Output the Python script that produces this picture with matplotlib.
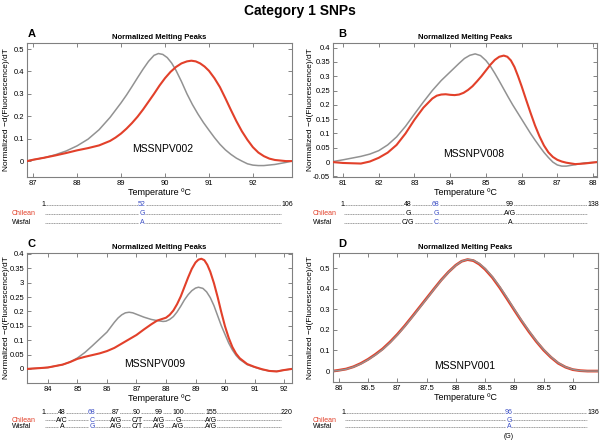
import matplotlib
matplotlib.use("Agg")
import matplotlib.pyplot as plt
from matplotlib.lines import Line2D

plt.rcParams['font.family'] = ['Liberation Sans', 'DejaVu Sans']

# ---- melting curves ----
a_x_gray = [86.86, 87.0, 87.25, 87.5, 87.75, 88.0, 88.25, 88.5, 88.75, 89.0, 89.125, 89.25, 89.375,
            89.5, 89.625, 89.75, 89.85, 89.95, 90.05, 90.15, 90.25, 90.375, 90.5, 90.625, 90.75,
            90.875, 91.0, 91.125, 91.25, 91.375, 91.5, 91.625, 91.75, 91.875, 92.0, 92.125, 92.25,
            92.5, 92.75, 92.89]
a_y_gray = [0.0, 0.006, 0.015, 0.028, 0.045, 0.068, 0.098, 0.14, 0.195, 0.26, 0.295, 0.333, 0.372,
            0.41, 0.445, 0.472, 0.48, 0.476, 0.462, 0.438, 0.405, 0.355, 0.30, 0.252, 0.21,
            0.172, 0.138, 0.105, 0.075, 0.05, 0.03, 0.013, 0.0, -0.012, -0.018, -0.02, -0.02,
            -0.015, -0.006, 0.0]
a_x_red = [86.86, 87.0, 87.25, 87.5, 87.75, 88.0, 88.25, 88.5, 88.75, 88.875, 89.0, 89.125, 89.25,
           89.375, 89.5, 89.625, 89.75, 89.875, 90.0, 90.125, 90.25, 90.375, 90.5, 90.6, 90.7,
           90.8, 90.9, 91.0, 91.125, 91.25, 91.375, 91.5, 91.625, 91.75, 91.875, 92.0, 92.125,
           92.25, 92.375, 92.5, 92.75, 92.89]
a_y_red = [0.0, 0.006, 0.015, 0.025, 0.036, 0.048, 0.058, 0.07, 0.09, 0.105, 0.123, 0.145, 0.17,
           0.198, 0.23, 0.265, 0.30, 0.337, 0.37, 0.398, 0.42, 0.436, 0.445, 0.448, 0.445,
           0.436, 0.422, 0.403, 0.37, 0.33, 0.28, 0.228, 0.178, 0.133, 0.095, 0.062, 0.038,
           0.022, 0.011, 0.005, 0.0, 0.0]

b_x_gray = [80.72, 81.0, 81.5, 81.75, 82.0, 82.25, 82.5, 82.75, 83.0, 83.25, 83.5, 83.75, 84.0,
            84.25, 84.4, 84.55, 84.7, 84.85, 85.0, 85.125, 85.25, 85.375, 85.5, 85.625, 85.75,
            85.875, 86.0, 86.125, 86.25, 86.375, 86.5, 86.625, 86.75, 86.875, 87.0, 87.125, 87.25,
            87.5, 87.75, 88.11]
b_y_gray = [0.002, 0.008, 0.02, 0.028, 0.04, 0.06, 0.088, 0.125, 0.168, 0.21, 0.25, 0.285, 0.315,
            0.345, 0.362, 0.373, 0.378, 0.372, 0.355, 0.335, 0.31, 0.283, 0.255, 0.227, 0.2,
            0.175, 0.15, 0.125, 0.10, 0.077, 0.055, 0.034, 0.016, 0.0, -0.01, -0.014, -0.014,
            -0.009, -0.003, 0.0]
b_x_red = [80.72, 81.0, 81.5, 81.75, 82.0, 82.25, 82.5, 82.75, 83.0, 83.25, 83.5, 83.625, 83.75,
           83.875, 84.0, 84.125, 84.25, 84.375, 84.5, 84.625, 84.75, 84.875, 85.0, 85.125, 85.25,
           85.375, 85.5, 85.6, 85.7, 85.8, 85.9, 86.0, 86.125, 86.25, 86.375, 86.5, 86.625, 86.75,
           86.875, 87.0, 87.125, 87.25, 87.5, 87.75, 88.11]
b_y_red = [0.0, -0.003, -0.005, 0.002, 0.015, 0.033, 0.06, 0.10, 0.148, 0.19, 0.222, 0.232, 0.236,
           0.237, 0.235, 0.234, 0.236, 0.242, 0.252, 0.265, 0.282, 0.30, 0.32, 0.34, 0.357,
           0.368, 0.372, 0.368, 0.355, 0.332, 0.30, 0.265, 0.218, 0.172, 0.128, 0.09, 0.058, 0.034,
           0.018, 0.008, 0.002, -0.002, -0.007, -0.005, 0.0]

c_x_gray = [83.29, 83.75, 84.0, 84.5, 84.75, 85.0, 85.25, 85.5, 85.75, 86.0, 86.125, 86.25, 86.375,
            86.5, 86.625, 86.75, 86.875, 87.0, 87.25, 87.5, 87.7, 87.9, 88.0, 88.125, 88.25, 88.375,
            88.5, 88.625, 88.75, 88.875, 89.0, 89.1, 89.25, 89.375, 89.5, 89.625, 89.75, 89.875,
            90.0, 90.125, 90.25, 90.375, 90.5, 90.75, 91.0, 91.25, 91.5, 91.75, 92.0, 92.27]
c_y_gray = [0.0, 0.003, 0.005, 0.015, 0.024, 0.038, 0.057, 0.08, 0.104, 0.128, 0.145, 0.162, 0.177,
            0.188, 0.195, 0.197, 0.195, 0.19, 0.18, 0.172, 0.168, 0.165, 0.166, 0.172, 0.182, 0.198,
            0.218, 0.24, 0.258, 0.272, 0.281, 0.284, 0.28, 0.268, 0.248, 0.22, 0.185, 0.15,
            0.12, 0.09, 0.066, 0.047, 0.033, 0.015, 0.006, -0.002, -0.007, -0.008, -0.004, 0.0]
c_x_red = [83.29, 83.75, 84.0, 84.5, 84.75, 85.0, 85.25, 85.5, 85.75, 86.0, 86.25, 86.5, 86.75,
           87.0, 87.25, 87.5, 87.7, 88.0, 88.125, 88.25, 88.375, 88.5, 88.625, 88.75, 88.875, 89.0,
           89.1, 89.2, 89.3, 89.4, 89.5, 89.625, 89.75, 89.875, 90.0, 90.125, 90.25, 90.375, 90.5,
           90.75, 91.0, 91.25, 91.5, 91.75, 92.0, 92.27]
c_y_red = [0.0, 0.003, 0.005, 0.015, 0.024, 0.035, 0.042, 0.048, 0.054, 0.062, 0.073, 0.088, 0.103,
           0.118, 0.137, 0.155, 0.168, 0.178, 0.188, 0.203, 0.225, 0.252, 0.285, 0.318, 0.348, 0.37,
           0.38, 0.383, 0.378, 0.362, 0.338, 0.298, 0.25, 0.197, 0.148, 0.108, 0.076, 0.053, 0.037,
           0.017, 0.007, -0.001, -0.007, -0.009, -0.004, 0.0]

d_x_gray = [85.9, 86.0, 86.125, 86.25, 86.375, 86.5, 86.625, 86.75, 86.875, 87.0, 87.125, 87.25,
            87.375, 87.5, 87.625, 87.75, 87.875, 88.0, 88.1, 88.2, 88.3, 88.4, 88.5, 88.625, 88.75,
            88.875, 89.0, 89.125, 89.25, 89.375, 89.5, 89.625, 89.75, 89.875, 90.0, 90.125, 90.25,
            90.43]
d_y_gray = [0.0, 0.003, 0.009, 0.02, 0.035, 0.055, 0.078, 0.105, 0.138, 0.175, 0.216, 0.26,
            0.305, 0.35, 0.396, 0.44, 0.48, 0.513, 0.533, 0.542, 0.538, 0.522, 0.498, 0.458, 0.41,
            0.356, 0.30, 0.246, 0.195, 0.147, 0.105, 0.069, 0.04, 0.02, 0.008, 0.002, 0.0, 0.0]
d_x_red = d_x_gray
d_y_red = [0.0, 0.004, 0.01, 0.021, 0.037, 0.057, 0.081, 0.108, 0.141, 0.178, 0.219, 0.263,
           0.308, 0.353, 0.398, 0.442, 0.481, 0.514, 0.533, 0.541, 0.536, 0.519, 0.494, 0.454, 0.405,
           0.351, 0.296, 0.242, 0.191, 0.144, 0.102, 0.067, 0.038, 0.019, 0.007, 0.002, 0.0, 0.0]

amplicons = ["MSSNPV002", "MSSNPV008", "MSSNPV009", "MSSNPV001"]
panel_letters = ["A", "B", "C", "D"]

a_xticks = [87, 88, 89, 90, 91, 92]
b_xticks = [81, 82, 83, 84, 85, 86, 87, 88]
c_xticks = [84, 85, 86, 87, 88, 89, 90, 91, 92]
d_xticks = [86, 86.5, 87, 87.5, 88, 88.5, 89, 89.5, 90]
d_xticklabels = ["86", "86.5", "87", "87.5", "88", "88.5", "89", "89.5", "90"]
a_yticks = [0, 0.1, 0.2, 0.3, 0.4, 0.5]
a_yticklabels = ["0", "0.1", "0.2", "0.3", "0.4", "0.5"]
b_yticks = [-0.05, 0, 0.05, 0.1, 0.15, 0.2, 0.25, 0.3, 0.35, 0.4]
b_yticklabels = ["-0.05", "0", "0.05", "0.1", "0.15", "0.2", "0.25", "0.3", "0.35", "0.4"]
c_yticks = [0, 0.05, 0.1, 0.15, 0.2, 0.25, 0.3, 0.35, 0.4]
c_yticklabels = ["0", "0.05", "0.1", "0.15", "0.2", "0.25", "3", "0.35", "0.4"]
d_yticks = a_yticks
d_yticklabels = a_yticklabels

# ---- sequence alignments under each panel ----
a_sites = ["1", "52", "106"]
a_chilean = ["", "G", ""]
a_wisfal = ["", "A", ""]
b_sites = ["1", "48", "68", "99", "138"]
b_chilean = ["", "G", "G", "A/G", ""]
b_wisfal = ["", "C/G", "C", "A", ""]
c_sites = ["1", "48", "68", "87", "90", "99", "100", "155", "220"]
c_chilean = ["", "A/C", "C", "A/G", "C/T", "A/G", "G", "A/G", ""]
c_wisfal = ["", "A", "G", "A/G", "C/T", "A/G", "A/G", "A/G", ""]
d_sites = ["1", "96", "136"]
d_chilean = ["", "G", ""]
d_wisfal = ["", "A", ""]
d_extra = "(G)"

RED = '#e2402a'
GRAY = '#929292'
BLUE = '#3c4fc4'
W, H = 600, 443


def fx(x):
    return x / W


def fy(y):
    return 1 - y / H


fig = plt.figure(figsize=(6.0, 4.43), dpi=100)
fig.text(0.5, fy(11), "Category 1 SNPs", ha='center', va='center', fontsize=10, fontweight='bold')

# axes boxes in pixels: left, top, right, bottom
boxes = [(27, 43, 292, 177), (333, 43, 597, 177), (27, 253, 292, 383), (333, 253, 598, 382)]
xlims = [(86.86, 92.89), (80.72, 88.11), (83.29, 92.27), (85.9, 90.43)]
ylims = [(-0.071, 0.527), (-0.052, 0.416), (-0.049, 0.403), (-0.053, 0.573)]
label_pos = [(89.95, 0.03), (84.65, 0.012), (87.6, 0.0), (88.15, 0.0)]
ylabel_x = [-0.064, -0.072, -0.064, -0.072]
curves = [(a_x_gray, a_y_gray, a_x_red, a_y_red), (b_x_gray, b_y_gray, b_x_red, b_y_red),
          (c_x_gray, c_y_gray, c_x_red, c_y_red), (d_x_gray, d_y_gray, d_x_red, d_y_red)]
xticks = [(a_xticks, None), (b_xticks, None), (c_xticks, None), (d_xticks, d_xticklabels)]
yticks = [(a_yticks, a_yticklabels), (b_yticks, b_yticklabels), (c_yticks, c_yticklabels),
          (d_yticks, d_yticklabels)]

for i, (l, t, r, b) in enumerate(boxes):
    ax = fig.add_axes([fx(l), fy(b), (r - l) / W, (b - t) / H])
    xg, yg, xr, yr = curves[i]
    if i == 3:
        ax.plot(xr, yr, color=RED, lw=2.0, zorder=2)
        ax.plot(xg, yg, color=GRAY, lw=1.0, zorder=3)
    else:
        ax.plot(xg, yg, color=GRAY, lw=1.1, zorder=2)
        ax.plot(xr, yr, color=RED, lw=1.5, zorder=3)
    ax.set_xlim(*xlims[i])
    ax.set_ylim(*ylims[i])
    xt, xtl = xticks[i]
    ax.set_xticks(xt)
    if xtl:
        ax.set_xticklabels(xtl)
    yt, ytl = yticks[i]
    ax.set_yticks(yt)
    ax.set_yticklabels(ytl)
    ax.tick_params(direction='in', length=3, width=0.6, color='#707070', labelsize=5.5,
                   top=True, right=True, pad=2)
    for s in ax.spines.values():
        s.set_color('#808080')
        s.set_linewidth(0.8)
    ax.set_xlabel("Temperature ºC", fontsize=6.5, labelpad=1)
    ax.set_ylabel("Normalized \u2212d(Fluorescence)/dT", fontsize=6.0)
    ax.yaxis.set_label_coords(ylabel_x[i], 0.5)
    ax.set_title("Normalized Melting Peaks", fontsize=5.5, fontweight='bold', pad=3)
    ax.text(*label_pos[i], amplicons[i], ha='center', va='bottom', fontsize=7.5)
    fig.text(fx(l + 5 if i % 2 == 0 else l + 9), fy(t - 9), panel_letters[i], fontsize=8,
             fontweight='bold', ha='center', va='center')

# sequence rows: (sites, chilean, wisfal, x positions, row ys, name x)
seq_rows = [
    (a_sites, a_chilean, a_wisfal, [43, 142, 287], (205, 214, 223), 12),
    (b_sites, b_chilean, b_wisfal, [342, 408, 436, 510, 593], (205, 214, 223), 313),
    (c_sites, c_chilean, c_wisfal, [43, 62, 92, 116, 137, 159, 178, 211, 287], (413, 420, 427), 12),
    (d_sites, d_chilean, d_wisfal, [343, 509, 593], (413, 420, 427), 313),
]
blue_idx = [1, 2, 2, 1]
fs = 5
for k, (sites, chil, wis, xs, ys, name_x) in enumerate(seq_rows):
    y1, y2, y3 = ys
    # dashed backbone lines
    fig.add_artist(Line2D([fx(xs[0]), fx(xs[-1])], [fy(y1), fy(y1)], color='#555555', lw=0.4,
                          ls=(0, (2, 1))))
    for yy in (y2, y3):
        fig.add_artist(Line2D([fx(xs[0] + 2), fx(xs[-1] - 6)], [fy(yy), fy(yy)], color='#555555',
                              lw=0.4, ls=(0, (2, 1))))
    bb = dict(facecolor='white', edgecolor='none', pad=0.3)
    for j, s in enumerate(sites):
        c = BLUE if j == blue_idx[k] else 'black'
        fig.text(fx(xs[j]), fy(y1), s, fontsize=fs, color=c, ha='center', va='center', bbox=bb)
    for row, yy in ((chil, y2), (wis, y3)):
        for j, s in enumerate(row):
            if s:
                c = BLUE if j == blue_idx[k] else 'black'
                fig.text(fx(xs[j]), fy(yy), s, fontsize=fs, color=c, ha='center', va='center', bbox=bb)
    fig.text(fx(name_x), fy(y2), "Chilean", fontsize=fs, color=RED, ha='left', va='center')
    fig.text(fx(name_x), fy(y3), "Wisfal", fontsize=fs, color='black', ha='left', va='center')
    if k == 3:
        fig.text(fx(xs[1]), fy(437), d_extra, fontsize=fs, color='black', ha='center', va='center')

fig.savefig("out.png", dpi=100)
